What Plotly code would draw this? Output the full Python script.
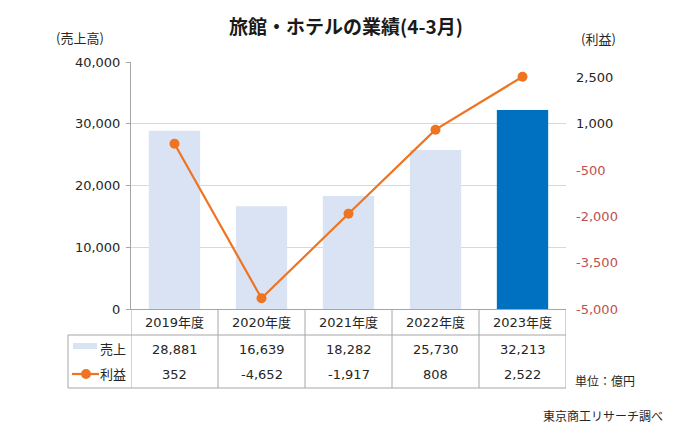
import plotly.graph_objects as go

categories = ["2019年度", "2020年度", "2021年度", "2022年度", "2023年度"]
sales = [28881, 16639, 18282, 25730, 32213]
profit = [352, -4652, -1917, 808, 2522]
left_ticks = [0, 10000, 20000, 30000, 40000]
right_ticks = [-5000, -3500, -2000, -500, 1000, 2500]

title = "旅館・ホテルの業績(4-3月)"
left_label = "(売上高)"
right_label = "(利益)"
unit_note = "単位：億円"
source_note = "東京商工リサーチ調べ"
series_names = ["売上", "利益"]

# page body has an 8px default margin
O = 8
W, H = 694 - O, 442 - O
L, R, T, B = 131 - O, 566 - O, 62 - O, 309 - O

def py(p):
    return (B - (p - O)) / (B - T)

def px(q):
    return ((q - O) - L) / (R - L)

JP = "Noto Sans CJK JP"
NUM = "DejaVu Sans, Noto Sans CJK JP"
TXT = "#262626"
GRID = "#d9d9d9"
BORDER = "#a6a6a6"
ORANGE = "#EE7421"
RED = "#C0504D"

bar_colors = ["#DAE3F3"] * (len(categories) - 1) + ["#0070C0"]

fig = go.Figure()
fig.add_trace(go.Bar(
    x=categories, y=sales, marker=dict(color=bar_colors, line=dict(width=0)),
    yaxis="y", name=series_names[0], hoverinfo="skip",
))
fig.add_trace(go.Scatter(
    x=categories, y=profit, yaxis="y2", mode="lines+markers",
    line=dict(color=ORANGE, width=2.2),
    marker=dict(color=ORANGE, size=10), name=series_names[1], hoverinfo="skip",
))

def fmt(v):
    return f"{v:,}"

right_text = [
    (f"<span style='color:{RED}'>{fmt(v)}</span>" if v < 0 else fmt(v))
    for v in right_ticks
]

fig.update_layout(
    width=W, height=H,
    margin=dict(l=L, r=W - R, t=T, b=H - B, pad=0),
    paper_bgcolor="white", plot_bgcolor="white",
    showlegend=False, bargap=0.41,
    font=dict(family=NUM, size=13, color=TXT),
    xaxis=dict(
        type="category", range=[-0.5, 4.5], showticklabels=False,
        showgrid=False, showline=True, linecolor=BORDER, linewidth=1,
        ticks="", zeroline=False,
    ),
    yaxis=dict(
        range=[0, 40000], tickvals=left_ticks, ticktext=[fmt(v) for v in left_ticks],
        showgrid=True, gridcolor=GRID, gridwidth=1, showline=True,
        linecolor=BORDER, linewidth=1, ticks="outside", ticklen=4,
        tickcolor=BORDER, zeroline=False, ticklabelstandoff=3,
        tickfont=dict(family=NUM, size=13, color=TXT),
    ),
    yaxis2=dict(
        range=[-5000, 3000], overlaying="y", side="right",
        tickvals=right_ticks, ticktext=right_text, showgrid=False,
        showline=False, ticks="", zeroline=False, ticklabelstandoff=9,
        tickfont=dict(family=NUM, size=13, color=TXT),
    ),
)

shapes = []
ytop_hdr = py(309)
y_r1 = py(335)
y_bot = py(388)
x_left = px(68)
for i in range(len(categories) + 1):
    shapes.append(dict(type="line", xref="x", yref="paper", x0=i - 0.5, x1=i - 0.5,
                       y0=ytop_hdr, y1=y_bot, line=dict(color=BORDER, width=1)))
shapes.append(dict(type="line", xref="paper", yref="paper", x0=x_left, x1=x_left,
                   y0=y_r1, y1=y_bot, line=dict(color=BORDER, width=1)))
for yy in (y_r1, y_bot):
    shapes.append(dict(type="line", xref="paper", yref="paper", x0=x_left, x1=1,
                       y0=yy, y1=yy, line=dict(color=BORDER, width=1)))
# legend keys
shapes.append(dict(type="rect", xref="paper", yref="paper", x0=px(73), x1=px(97),
                   y0=py(349), y1=py(343), fillcolor="#DAE3F3", line=dict(width=0)))
shapes.append(dict(type="line", xref="paper", yref="paper", x0=px(72), x1=px(99),
                   y0=py(374), y1=py(374), line=dict(color=ORANGE, width=2.2)))
shapes.append(dict(type="circle", xref="paper", yref="paper", x0=px(81), x1=px(91),
                   y0=py(379), y1=py(369), fillcolor=ORANGE, line=dict(width=0)))

anns = []
def ann(text, x, y, xref="paper", yref="paper", size=13, family=NUM, xanchor="center",
        color=TXT):
    anns.append(dict(text=text, x=x, y=y, xref=xref, yref=yref, showarrow=False,
                     xanchor=xanchor, yanchor="middle",
                     font=dict(size=size, family=family, color=color)))

for i, c in enumerate(categories):
    ann(c, i, py(322), xref="x")
    ann(fmt(sales[i]), i, py(349), xref="x")
    ann(fmt(profit[i]), i, py(374), xref="x")

ann(series_names[0], px(113), py(348), family=JP)
ann(series_names[1], px(113), py(373), family=JP)

ann(f"<b>{title}</b>", px(346), py(25), size=19, family=JP, color="#1a1a1a")
ann(left_label, px(80), py(38), family=JP)
ann(right_label, px(598), py(39), family=JP)
ann(unit_note, px(573), py(380), family=JP, xanchor="left", size=12)
ann(source_note, px(541), py(415), family=JP, xanchor="left", size=12)

fig.update_layout(shapes=shapes, annotations=anns)
fig.write_html("out.html")
